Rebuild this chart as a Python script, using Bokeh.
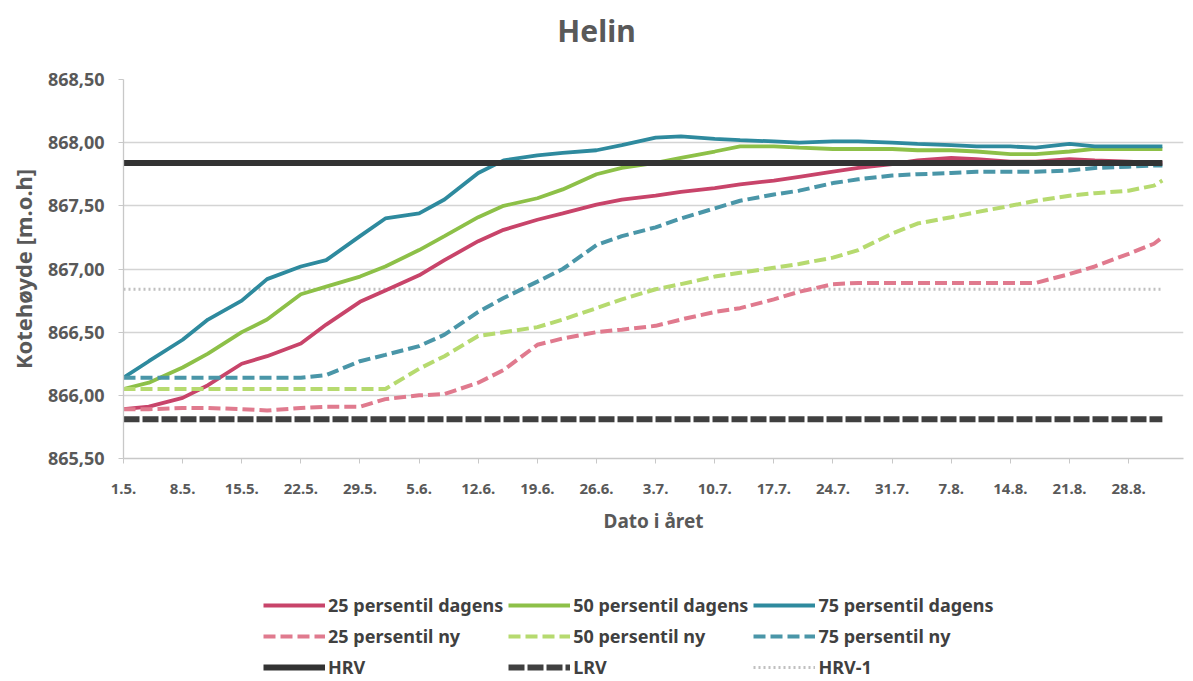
from bokeh.plotting import figure
from bokeh.models import FixedTicker, Legend, LegendItem, Label
from bokeh.layouts import column
from bokeh.embed import file_html
from bokeh.resources import INLINE

# ---------------- data ----------------
TITLE = "Helin"
X_LABEL = "Dato i året"
Y_LABEL = "Kotehøyde [m.o.h]"

# day index counted from 1. May
DAYS = [0, 3, 7, 10, 14, 17, 21, 24, 28, 31, 35, 38, 42, 45, 49, 52, 56, 59, 63,
        66, 70, 73, 77, 80, 84, 87, 91, 94, 98, 101, 105, 108, 112, 115, 119, 122, 123]

p25_dagens = [865.89, 865.91, 865.98, 866.08, 866.25, 866.31, 866.41, 866.56, 866.74,
              866.83, 866.95, 867.07, 867.22, 867.31, 867.39, 867.44, 867.51, 867.55,
              867.58, 867.61, 867.64, 867.67, 867.70, 867.73, 867.77, 867.80, 867.83,
              867.86, 867.88, 867.87, 867.85, 867.85, 867.87, 867.86, 867.85, 867.84, 867.84]
p50_dagens = [866.05, 866.10, 866.22, 866.33, 866.50, 866.60, 866.80, 866.86, 866.94,
              867.02, 867.15, 867.26, 867.41, 867.50, 867.56, 867.63, 867.75, 867.80,
              867.84, 867.88, 867.93, 867.97, 867.97, 867.96, 867.95, 867.95, 867.95,
              867.94, 867.94, 867.93, 867.91, 867.91, 867.93, 867.95, 867.95, 867.95, 867.95]
p75_dagens = [866.14, 866.27, 866.44, 866.60, 866.75, 866.92, 867.02, 867.07, 867.26,
              867.40, 867.44, 867.55, 867.76, 867.86, 867.90, 867.92, 867.94, 867.98,
              868.04, 868.05, 868.03, 868.02, 868.01, 868.00, 868.01, 868.01, 868.00,
              867.99, 867.98, 867.97, 867.97, 867.96, 867.99, 867.97, 867.97, 867.97, 867.97]
p25_ny = [865.89, 865.89, 865.90, 865.90, 865.89, 865.88, 865.90, 865.91, 865.91,
          865.97, 866.00, 866.01, 866.10, 866.20, 866.40, 866.45, 866.50, 866.52,
          866.55, 866.60, 866.66, 866.69, 866.76, 866.82, 866.88, 866.89, 866.89,
          866.89, 866.89, 866.89, 866.89, 866.89, 866.96, 867.02, 867.12, 867.20, 867.25]
p50_ny = [866.05, 866.05, 866.05, 866.05, 866.05, 866.05, 866.05, 866.05, 866.05,
          866.05, 866.21, 866.31, 866.47, 866.50, 866.54, 866.60, 866.69, 866.76,
          866.84, 866.88, 866.94, 866.97, 867.01, 867.04, 867.09, 867.15, 867.28,
          867.36, 867.41, 867.45, 867.50, 867.54, 867.58, 867.60, 867.62, 867.66, 867.70]
p75_ny = [866.14, 866.14, 866.14, 866.14, 866.14, 866.14, 866.14, 866.16, 866.27,
          866.32, 866.39, 866.48, 866.66, 866.77, 866.90, 867.00, 867.19, 867.26,
          867.33, 867.40, 867.48, 867.54, 867.59, 867.62, 867.68, 867.71, 867.74,
          867.75, 867.76, 867.77, 867.77, 867.77, 867.78, 867.80, 867.81, 867.82, 867.82]
HRV = 867.84
LRV = 865.81
HRV_1 = 866.84

X_TICKS = [0, 7, 14, 21, 28, 35, 42, 49, 56, 63, 70, 77, 84, 91, 98, 105, 112, 119]
X_TICK_LABELS = ["1.5.", "8.5.", "15.5.", "22.5.", "29.5.", "5.6.", "12.6.", "19.6.",
                 "26.6.", "3.7.", "10.7.", "17.7.", "24.7.", "31.7.", "7.8.", "14.8.",
                 "21.8.", "28.8."]
Y_TICKS = [865.5, 866.0, 866.5, 867.0, 867.5, 868.0, 868.5]
Y_TICK_LABELS = ["865,50", "866,00", "866,50", "867,00", "867,50", "868,00", "868,50"]

SERIES_NAMES = ["25 persentil dagens", "50 persentil dagens", "75 persentil dagens",
                "25 persentil ny", "50 persentil ny", "75 persentil ny",
                "HRV", "LRV", "HRV-1"]

# styles per series: (color, width, dash)
STYLES = [("#c8446a", 3.8, "solid"), ("#8dc048", 3.8, "solid"), ("#2e8a9e", 3.8, "solid"),
          ("#e07a8e", 4, "12 5"), ("#b6da6f", 4, "12 5"), ("#4a96a8", 4, "12 5"),
          ("#333333", 6, "solid"), ("#404040", 6, "16 3"), ("#c0c0c0", 3, "2 3")]

FONT = "Noto Sans"
TXT = "#595959"
W = 1188
BL, BR = 123, 5          # shared left / right borders of the plot frames
FRAME_L, FRAME_R = BL, W - BR

x_end = [DAYS[0], DAYS[-1]]
SERIES = [(DAYS, p25_dagens), (DAYS, p50_dagens), (DAYS, p75_dagens),
          (DAYS, p25_ny), (DAYS, p50_ny), (DAYS, p75_ny),
          (x_end, [HRV, HRV]), (x_end, [LRV, LRV]), (x_end, [HRV_1, HRV_1])]


def blank(h):
    # frame spans the same columns as the chart frame; x in page pixels
    f = figure(width=W, height=h, output_backend="svg", toolbar_location=None,
               x_range=(FRAME_L, FRAME_R), y_range=(0, h),
               x_axis_type=None, y_axis_type=None,
               min_border_left=BL, min_border_right=BR,
               min_border_top=0, min_border_bottom=0)
    f.outline_line_color = None
    f.grid.visible = False
    f.background_fill_color = "white"
    f.border_fill_color = "white"
    return f


# ---------------- title ----------------
TH = 58
pt = blank(TH)
pt.add_layout(Label(x=596, y=TH - 30, text=TITLE, text_font=FONT, text_font_size="30px",
                    text_font_style="bold", text_color=TXT,
                    text_align="center", text_baseline="middle"))

# ---------------- chart ----------------
p = figure(width=W, height=490, output_backend="svg", toolbar_location=None,
           x_range=(0, 125.5), y_range=(865.5, 868.5),
           min_border_left=BL, min_border_right=BR, min_border_top=21,
           min_border_bottom=90)
p.outline_line_color = None
p.background_fill_color = "white"
p.border_fill_color = "white"

p.xgrid.grid_line_color = None
p.ygrid.grid_line_color = "#d4d4d4"
p.ygrid.grid_line_width = 1.3

p.xaxis.ticker = FixedTicker(ticks=X_TICKS)
p.xaxis.major_label_overrides = dict(zip(X_TICKS, X_TICK_LABELS))
p.yaxis.ticker = FixedTicker(ticks=Y_TICKS)
p.yaxis.major_label_overrides = dict(zip(Y_TICKS, Y_TICK_LABELS))

for ax in (p.xaxis, p.yaxis):
    ax.axis_line_color = "#c8c8c8"
    ax.axis_line_width = 1.3
    ax.major_tick_line_color = "#c8c8c8"
    ax.minor_tick_line_color = None
    ax.major_tick_in = 0
    ax.major_tick_out = 5
    ax.major_label_text_font = FONT
    ax.major_label_text_font_style = "bold"
    ax.major_label_text_color = TXT
    ax.axis_label_text_font = FONT
    ax.axis_label_text_font_style = "bold"
    ax.axis_label_text_color = TXT

p.xaxis.major_label_text_font_size = "15px"
p.yaxis.major_label_text_font_size = "18px"
p.xaxis.axis_label_text_font_size = "19px"
p.yaxis.axis_label_text_font_size = "22px"
p.xaxis.major_label_standoff = 20
p.yaxis.major_label_standoff = 14
p.xaxis.axis_label = X_LABEL
p.yaxis.axis_label = Y_LABEL
p.xaxis.axis_label_standoff = 11
p.yaxis.axis_label_standoff = 7

DRAW_ORDER = [8, 7, 0, 1, 2, 3, 4, 5, 6]
for i in DRAW_ORDER:
    xs, ys = SERIES[i]
    c, w, d = STYLES[i]
    p.line(xs, ys, line_color=c, line_width=w, line_dash=d)

# ---------------- legend ----------------
LH = 132
pl = blank(LH)
items = {}
for i, (name, (c, w, d)) in enumerate(zip(SERIES_NAMES, STYLES)):
    xs, ys = SERIES[i]
    # same series drawn in the legend strip, where it falls outside the frame
    r = pl.line(xs, ys, line_color=c, line_width=w, line_dash=d)
    items[i] = LegendItem(label=name, renderers=[r])
# legend fills column by column: reorder so rows read left to right
ORDER = [0, 3, 6, 1, 4, 7, 2, 5, 8]
legend = Legend(items=[items[i] for i in ORDER], ncols=3, location=(140, 0),
                label_text_font=FONT, label_text_font_style="bold",
                label_text_font_size="18px", label_text_color="#404040",
                glyph_width=62, glyph_height=26, label_height=26,
                label_standoff=3, spacing=5, padding=0, margin=0,
                background_fill_alpha=0, border_line_alpha=0)
pl.add_layout(legend, "center")

layout = column(pt, p, pl, spacing=0)
open("out.html", "w").write(file_html(layout, INLINE))
